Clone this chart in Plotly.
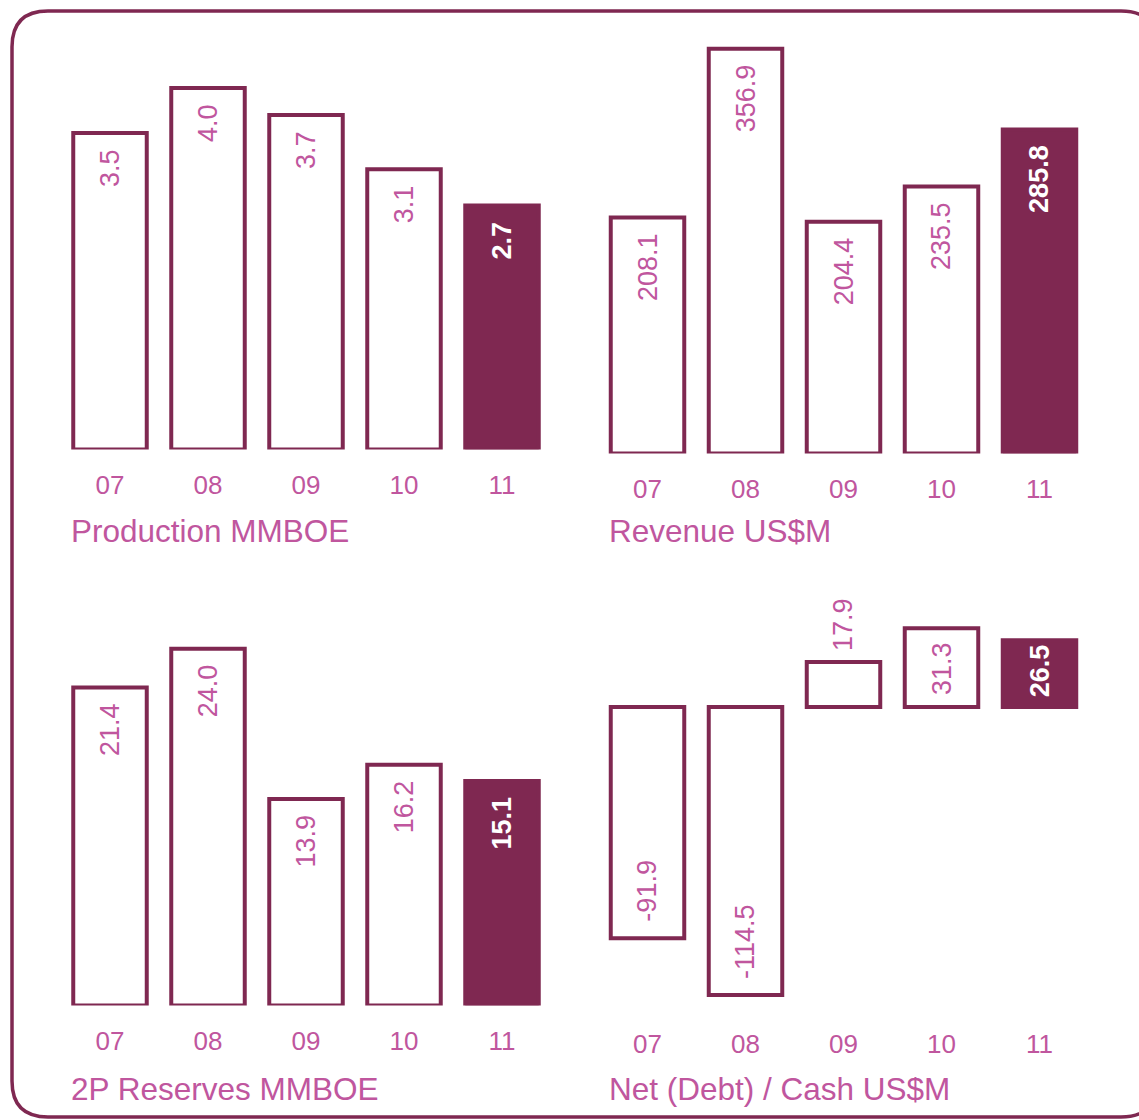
import plotly.graph_objects as go

W, H = 1139, 1120

years = ["07", "08", "09", "10", "11"]
production = [3.5, 4.0, 3.7, 3.1, 2.7]
revenue = [208.1, 356.9, 204.4, 235.5, 285.8]
reserves = [21.4, 24.0, 13.9, 16.2, 15.1]
net_cash = [-91.9, -114.5, 17.9, 31.3, 26.5]
titles = ["Production MMBOE", "Revenue US$M", "2P Reserves MMBOE", "Net (Debt) / Cash US$M"]

DARK = "#7F2851"
PINK = "#C0569E"
FONT = "Liberation Sans, Arial, sans-serif"

# panel geometry in pixels: (x_left, x_right, baseline_px, px_per_unit, yrange)
panels = [
    dict(vals=production, xl=61, xr=551, base=449.5, scale=90.4, yr=(0, 4.6), title_y=531, title_x=69),
    dict(vals=revenue, xl=598.5, xr=1088.5, base=453.5, scale=1.134, yr=(0, 390), title_y=531, title_x=607),
    dict(vals=reserves, xl=61, xr=551, base=1005.5, scale=14.86, yr=(0, 27), title_y=1089, title_x=69),
    dict(vals=net_cash, xl=598.5, xr=1088.5, base=707, scale=2.515, yr=(-120, 45), title_y=1089, title_x=607),
]

fig = go.Figure()
annotations = []
for i, p in enumerate(panels):
    k = "" if i == 0 else str(i + 1)
    xa, ya = "x" + k, "y" + k
    top_px = p["base"] - p["yr"][1] * p["scale"]
    bot_px = p["base"] - p["yr"][0] * p["scale"]
    fig.add_trace(go.Bar(
        x=years, y=p["vals"], xaxis=xa, yaxis=ya,
        marker=dict(color=["white"] * 4 + [DARK], line=dict(color=DARK, width=4)),
        showlegend=False, hoverinfo="x+y",
    ))
    fig.layout["xaxis" + k] = dict(
        domain=[p["xl"] / W, p["xr"] / W], anchor=ya, type="category",
        range=[-0.5, 4.5], showgrid=False, zeroline=False, showline=False,
        ticks="", ticklabelstandoff=17,
        tickfont=dict(family=FONT, size=26, color=PINK), fixedrange=True,
    )
    fig.layout["yaxis" + k] = dict(
        domain=[1 - bot_px / H, 1 - top_px / H], anchor=xa, range=list(p["yr"]),
        showgrid=False, zeroline=False, showline=False, showticklabels=False,
        fixedrange=True,
    )
    for j, v in enumerate(p["vals"]):
        last = j == len(p["vals"]) - 1
        bar_px = abs(v) * p["scale"]
        inside = bar_px > 55
        pad = min(14, max(2, bar_px - 67)) if inside else 9
        if v >= 0:
            yanchor = "top" if inside else "bottom"
            yshift = -pad if inside else pad
        else:
            yanchor = "bottom" if inside else "top"
            yshift = pad if inside else -pad
        annotations.append(dict(
            x=j, y=v, xref=xa, yref=ya, text=f"<b>{v:.1f}</b>" if last else f"{v:.1f}",
            showarrow=False, textangle=-90, xanchor="center", yanchor=yanchor, yshift=yshift,
            font=dict(family=FONT, size=27, color="white" if last else PINK),
        ))
    annotations.append(dict(
        x=p["title_x"] / W, y=1 - p["title_y"] / H, xref="paper", yref="paper",
        text=titles[i], showarrow=False, xanchor="left", yanchor="middle",
        font=dict(family=FONT, size=31.5, color=PINK),
    ))

# rounded border
x0, x1, y0, y1, r = 12, 1157, 11, 1117, 36
def px(x, y):
    return f"{x / W:.5f},{1 - y / H:.5f}"
path = (f"M {px(x0 + r, y0)} L {px(x1 - r, y0)} Q {px(x1, y0)} {px(x1, y0 + r)} "
        f"L {px(x1, y1 - r)} Q {px(x1, y1)} {px(x1 - r, y1)} "
        f"L {px(x0 + r, y1)} Q {px(x0, y1)} {px(x0, y1 - r)} "
        f"L {px(x0, y0 + r)} Q {px(x0, y0)} {px(x0 + r, y0)} Z")

fig.update_layout(
    width=W, height=H, margin=dict(l=0, r=0, t=0, b=0),
    paper_bgcolor="white", plot_bgcolor="rgba(0,0,0,0)",
    bargap=0.25, annotations=annotations,
    shapes=[dict(type="path", xref="paper", yref="paper", path=path,
                 line=dict(color=DARK, width=3.5), layer="below")],
)

fig.write_html("out.html")
